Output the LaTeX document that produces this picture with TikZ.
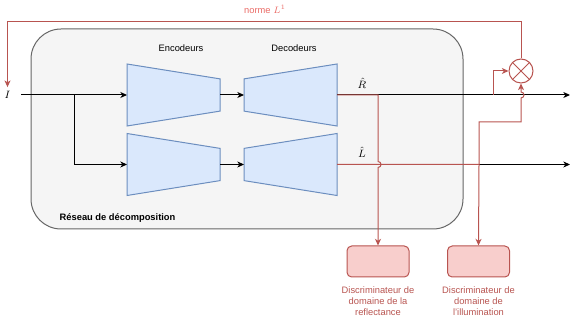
\documentclass[tikz,border=0pt]{standalone}
\usepackage{amsmath, amssymb}
\usepackage{fontspec}
\setmainfont{Liberation Sans}
\usetikzlibrary{
	arrows.meta,
	calc,
	positioning,
}
\definecolor{netfill}{HTML}{DAE8FC}
\definecolor{netdraw}{HTML}{6C8EBF}
\definecolor{boxfill}{HTML}{F5F5F5}
\definecolor{boxdraw}{HTML}{666666}
\definecolor{discfill}{HTML}{F8CECC}
\definecolor{discdraw}{HTML}{B85450}
\definecolor{normtext}{HTML}{EA6B66}
\tikzset{
	every node/.style={font=\fontsize{7}{8.25}\selectfont},
	mathlabel/.style={font=\fontsize{8.5}{10}\selectfont, inner sep=1pt},
	netbox/.style={rectangle, minimum width=69.75pt, minimum height=46.5pt, inner sep=0pt, outer sep=0pt},
	netshape/.style={draw=netdraw, fill=netfill, line width=0.75pt},
	flow/.style={-{Stealth[length=5pt, width=4.5pt, inset=1.5pt]}, line width=0.75pt},
	loss/.style={draw=discdraw, line width=0.75pt},
	disc/.style={rectangle, rounded corners=3.5pt, minimum width=46.5pt, minimum height=23.25pt,
		draw=discdraw, fill=discfill, line width=0.75pt},
	disclabel/.style={align=center, text=discdraw, anchor=north},
}

\begin{document}
\begin{tikzpicture}[x=0.75pt, y=-0.75pt]
				\useasboundingbox (0,0) rectangle (570,323);
				% decomposition network
				\draw[fill=boxfill, draw=boxdraw, line width=0.75pt, rounded corners=22.5pt] (31,29) rectangle (463,229);
				\node[anchor=west, font=\fontsize{7}{8.25}\selectfont\bfseries] (reseau) at (55,218) {Réseau de décomposition};
				\node (enclabel) at (181,48) {Encodeurs};
				\node (declabel) at (294,48) {Decodeurs};
				\node[netbox] (enc1) at (173.5,95) {};
				\node[netbox] (enc2) at (173.5,164.5) {};
				\node[netbox] (dec1) at (290.5,95) {};
				\node[netbox] (dec2) at (290.5,164.5) {};
				\foreach \n in {enc1,enc2}
					\draw[netshape] (\n.north west) -- ($(\n.north east)!0.24!(\n.south east)$)
						-- ($(\n.south east)!0.24!(\n.north east)$) -- (\n.south west) -- cycle;
				\foreach \n in {dec1,dec2}
					\draw[netshape] ($(\n.north west)!0.24!(\n.south west)$) -- (\n.north east)
						-- (\n.south east) -- ($(\n.south west)!0.24!(\n.north west)$) -- cycle;
				\node[mathlabel, inner sep=2pt] (I) at (7.5,95) {$I$};
				\node[mathlabel] (Rhat) at (362,83) {$\hat{R}$};
				\node[mathlabel] (Lhat) at (362,152) {$\hat{L}$};
				% discriminators and L1 norm
				\node[disc] (disc1) at (378,261.5) {};
				\node[disc] (disc2) at (478.5,261.5) {};
				\node[disclabel] (disc1text) at (378,282) {Discriminateur de\\domaine de la\\reflectance};
				\node[disclabel] (disc2text) at (478.5,282) {Discriminateur de\\domaine de\\l'illumination};
				\node[circle, minimum size=18pt, inner sep=0pt, draw=discdraw, fill=white, line width=0.75pt] (mult) at (521,71) {};
				\draw[loss] (mult.north west) -- (mult.south east) (mult.north east) -- (mult.south west);
				\node[text=normtext] (norm) at (265,9) {norme $L^1$};
				\coordinate (split) at (74,95);
				\coordinate (outR) at (570,95);
				\coordinate (outL) at (570,164.5);
				\coordinate (tapR) at (378,95);
				\coordinate (tapL) at (479,164.5);
				\coordinate (tapM) at (493,95);
				\coordinate (bendL) at (479,122);
				% main flow
				\draw[flow, shorten <=6pt] (I) -- (enc1.west);
				\draw[flow] (split) |- (enc2.west);
				\draw[flow] (enc1.east) -- (dec1.west);
				\draw[flow] (enc2.east) -- (dec2.west);
				\draw[flow] (dec1.east) -- (outR);
				\draw[flow] (dec2.east) -- (outL);
				% losses
				\draw[loss, flow] (dec1.east) -- (tapR) -- (378,161.5) .. controls (382,161.5) and (382,167.5) .. (378,167.5) -- (disc1.north);
				\draw[loss, flow] (dec2.east) -- (tapL) -- (disc2.north);
				\draw[loss, flow] (tapL) -- (bendL) -| (521,98) .. controls (525,98) and (525,92) .. (521,92) -- (mult.south);
				\draw[loss, flow] (tapM) |- (mult.west);
				\draw[loss, flow, shorten >=1pt] (mult.north) -- (521,22) -| (I.north);
			\end{tikzpicture}
\end{document}
